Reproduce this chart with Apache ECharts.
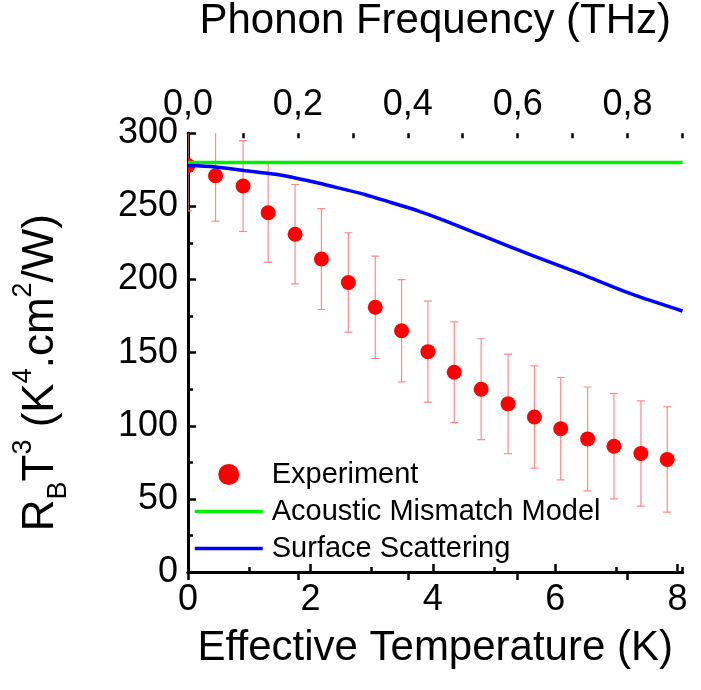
<!DOCTYPE html>
<html>
<head>
<meta charset="utf-8">
<script src="https://cdn.jsdelivr.net/npm/echarts@6/dist/echarts.min.js"></script>
<style>
  html, body { margin: 0; padding: 0; background: #fff; }
  #chart { width: 701px; height: 690px; }
</style>
</head>
<body>
<div id="chart"></div>
<script>
// Experiment: effective temperature (K), R_B T^3 and error half-width
const expTemp = [0, 0.45, 0.90, 1.31, 1.75, 2.18, 2.62, 3.06, 3.49, 3.92, 4.35, 4.79, 5.23, 5.66, 6.09, 6.53, 6.96, 7.40, 7.83];
const expValue = [278, 271, 264, 245.7, 231, 214, 198, 181, 165, 150.7, 136.6, 125, 115, 106, 98, 91, 86, 81, 77];
const expError = [31, 31, 31, 34, 34, 34.5, 34, 35, 35, 34.5, 34.5, 34.5, 34, 35, 35, 35.5, 36, 36, 36];

// Acoustic Mismatch Model (flat)
const ammTemp = [0, 8.08];
const ammValue = [280, 280];

// Surface Scattering
const ssTemp = [0, 0.45, 1.02, 1.43, 1.70, 2.13, 2.52, 2.90, 3.33, 3.76, 4.15, 4.78, 5.59, 6.41, 7.22, 8.08];
const ssValue = [278, 277, 274, 272, 270, 266, 262, 258, 252.5, 247, 241, 230.5, 217, 204, 190.5, 178.5];

const tempMax = 8.08;   // K
const freqMax = 0.9;    // THz

const font = "'Liberation Sans', Arial, sans-serif";
const errColor = "#ff8a8a";

const chart = echarts.init(document.getElementById("chart"));

const expData = expTemp.map((t, i) => [t, expValue[i], expError[i]]);
const ammData = ammTemp.map((t, i) => [t, ammValue[i]]);
const ssData = ssTemp.map((t, i) => [t, ssValue[i]]);

const frame = { show: true, lineStyle: { color: "#000", width: 3 } };
const bigTick = { show: true, inside: true, length: 8, lineStyle: { color: "#000", width: 2.5 } };
const smallTick = { show: true, inside: true, length: 5, lineStyle: { color: "#000", width: 2.5 } };
const tickLabel = { color: "#000", fontSize: 36, fontFamily: font, margin: 10 };
// hide the marker that echarts puts in the middle of a line legend icon
const noMarker = { color: "rgba(0,0,0,0)", opacity: 0, borderWidth: 0 };

const option = {
    animation: false,
    backgroundColor: "#fff",
    grid: {
        left: 188,
        right: 18.5,
        top: 133.3,
        bottom: 118,
        outerBoundsMode: "none"
    },
    legend: {
        orient: "vertical",
        left: 188,
        top: 455,
        itemWidth: 68,
        itemHeight: 21,
        itemGap: 8,
        textStyle: { color: "#000", fontSize: 29, fontFamily: font, padding: [0, 0, 0, 4] },
        data: [
            { name: "Experiment", icon: "circle" },
            { name: "Acoustic Mismatch Model", itemStyle: noMarker, lineStyle: { width: 3.5 } },
            { name: "Surface Scattering", itemStyle: noMarker, lineStyle: { width: 3.5 } }
        ]
    },
    xAxis: [
        {
            type: "value",
            position: "bottom",
            min: 0,
            max: tempMax,
            interval: 2,
            name: "Effective Temperature (K)",
            nameLocation: "middle",
            nameGap: 55,
            nameMoveOverlap: false,
            nameTextStyle: { color: "#000", fontSize: 42, fontFamily: font },
            axisLine: frame,
            axisTick: bigTick,
            axisLabel: Object.assign({ showMaxLabel: false }, tickLabel),
            splitLine: { show: false }
        },
        {
            type: "value",
            position: "top",
            min: 0,
            max: freqMax,
            interval: 0.2,
            name: "Phonon Frequency (THz)",
            nameLocation: "middle",
            nameGap: 91,
            nameMoveOverlap: false,
            nameTextStyle: { color: "#000", fontSize: 42, fontFamily: font },
            axisLine: frame,
            axisTick: bigTick,
            axisLabel: Object.assign({
                showMaxLabel: false,
                formatter: v => v.toFixed(1).replace(".", ",")
            }, tickLabel),
            splitLine: { show: false }
        },
        {
            type: "value",
            position: "bottom",
            min: 0,
            max: tempMax,
            interval: 1,
            axisLine: { show: false },
            axisTick: smallTick,
            axisLabel: { show: false },
            splitLine: { show: false }
        },
        {
            type: "value",
            position: "top",
            min: 0,
            max: freqMax,
            interval: 0.1,
            axisLine: { show: false },
            axisTick: smallTick,
            axisLabel: { show: false },
            splitLine: { show: false }
        }
    ],
    yAxis: [
        {
            type: "value",
            position: "left",
            min: 0,
            max: 300,
            interval: 50,
            name: "R{sub|B}T{sup|3} (K{sup|4}.cm{sup|2}/W)",
            nameLocation: "middle",
            nameGap: 116,
            nameMoveOverlap: false,
            nameTextStyle: {
                color: "#000",
                fontSize: 44,
                fontFamily: font,
                lineHeight: 62,
                padding: [0, 40, 0, 0],
                rich: {
                    sub: { fontSize: 27, lineHeight: 27, verticalAlign: "bottom", fontFamily: font, color: "#000" },
                    sup: { fontSize: 27, lineHeight: 27, verticalAlign: "top", fontFamily: font, color: "#000" }
                }
            },
            axisLine: frame,
            axisTick: bigTick,
            minorTick: { show: true, splitNumber: 2, length: 5, lineStyle: { color: "#000", width: 2.5 } },
            axisLabel: tickLabel,
            splitLine: { show: false }
        },
        {
            type: "value",
            position: "right",
            min: 0,
            max: 300,
            axisLine: frame,
            axisTick: { show: false },
            axisLabel: { show: false },
            splitLine: { show: false }
        }
    ],
    series: [
        {
            name: "Experiment",
            type: "custom",
            xAxisIndex: 0,
            yAxisIndex: 0,
            clip: true,
            itemStyle: { color: "#ff0000" },
            encode: { x: 0, y: 1 },
            data: expData,
            renderItem: (params, api) => {
                const t = api.value(0);
                const v = api.value(1);
                const e = api.value(2);
                const c = api.coord([t, v]);
                const hi = api.coord([t, v + e]);
                const lo = api.coord([t, v - e]);
                const errStyle = { stroke: errColor, lineWidth: 1.2 };
                return {
                    type: "group",
                    children: [
                        { type: "line", shape: { x1: c[0], y1: hi[1], x2: c[0], y2: lo[1] }, style: errStyle },
                        { type: "line", shape: { x1: c[0] - 4, y1: hi[1], x2: c[0] + 4, y2: hi[1] }, style: errStyle },
                        { type: "line", shape: { x1: c[0] - 4, y1: lo[1], x2: c[0] + 4, y2: lo[1] }, style: errStyle },
                        { type: "circle", shape: { cx: c[0], cy: c[1], r: 7.5 }, style: { fill: "#ff0000" } }
                    ]
                };
            }
        },
        {
            name: "Acoustic Mismatch Model",
            type: "line",
            xAxisIndex: 0,
            yAxisIndex: 0,
            symbol: "none",
            lineStyle: { color: "#00ee00", width: 3.5 },
            itemStyle: { color: "#00ee00" },
            data: ammData
        },
        {
            name: "Surface Scattering",
            type: "line",
            xAxisIndex: 0,
            yAxisIndex: 0,
            symbol: "none",
            smooth: 0.3,
            lineStyle: { color: "#0000ff", width: 3.5 },
            itemStyle: { color: "#0000ff" },
            data: ssData
        }
    ]
};

chart.setOption(option);
</script>
</body>
</html>
